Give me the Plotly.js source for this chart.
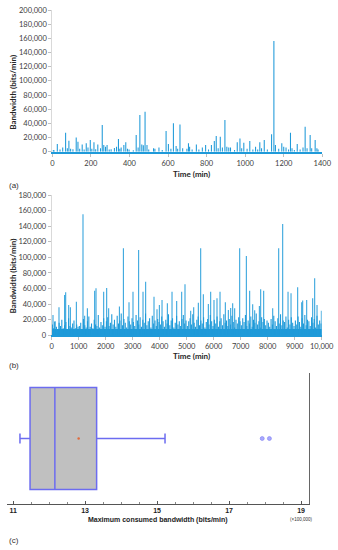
<!DOCTYPE html>
<html>
<head>
<meta charset="utf-8">
<script src="https://cdn.plot.ly/plotly-3.0.1.min.js"></script>
<style>html,body{margin:0;padding:0;background:#fff;}#chart{width:338px;height:550px;}</style>
</head>
<body>
<div id="chart"></div>
<script>
// ---------- Panel (a): one day, minute resolution ----------
const aTimes = [5,9,26,40,54,69,78,86,95,107,124,133,142,155,165,176,185,197,205,216,225,236,250,259,267,276,284,295,305,322,333,343,350,357,371,381,390,398,420,435,445,454,464,472,481,491,500,525,532,553,570,590,602,615,628,642,650,662,676,698,706,712,725,747,760,778,795,810,825,840,850,860,871,882,895,905,915,924,945,959,973,982,993,1010,1024,1040,1054,1065,1076,1085,1099,1115,1137,1149,1157,1174,1190,1200,1212,1225,1235,1243,1255,1270,1285,1300,1311,1321,1337,1345,1363,1372,1378];
const aValues = [2400,2000,10800,3000,6100,26800,5000,15500,4000,3300,20200,14100,4000,10300,3000,11800,6000,16500,4000,13200,3500,10300,5000,37600,9400,7000,9400,3000,3300,5200,7000,17900,4000,6100,9400,13200,4000,3000,2000,23500,6000,51700,10300,9000,56400,9400,3000,4700,4000,6100,2500,29100,10800,4000,40000,8000,4000,38500,5000,4000,11800,7000,3000,10300,3000,6100,9400,3000,9400,15000,22100,5000,21200,6000,44700,7000,6000,6000,2500,13200,18800,5000,12700,4000,15000,3000,7000,3000,13200,5000,16500,3000,24500,156200,9400,4000,11800,7000,6000,3000,26800,5000,2500,10800,3000,6000,35300,5000,23500,5000,16500,5000,3000];
const aTickVals = [0,200,400,600,800,1000,1200,1400];

// ---------- Panel (b): ten thousand minutes ----------
const bBaseTimes = [
25,75,125,175,225,275,325,375,425,475,525,575,625,675,725,775,825,875,925,975,
1025,1075,1125,1175,1225,1275,1325,1375,1425,1475,1525,1575,1625,1675,1725,1775,1825,1875,1925,1975,
2025,2075,2125,2175,2225,2275,2325,2375,2425,2475,2525,2575,2625,2675,2725,2775,2825,2875,2925,2975,
3025,3075,3125,3175,3225,3275,3325,3375,3425,3475,3525,3575,3625,3675,3725,3775,3825,3875,3925,3975,
4025,4075,4125,4175,4225,4275,4325,4375,4425,4475,4525,4575,4625,4675,4725,4775,4825,4875,4925,4975,
5025,5075,5125,5175,5225,5275,5325,5375,5425,5475,5525,5575,5625,5675,5725,5775,5825,5875,5925,5975,
6025,6075,6125,6175,6225,6275,6325,6375,6425,6475,6525,6575,6625,6675,6725,6775,6825,6875,6925,6975,
7025,7075,7125,7175,7225,7275,7325,7375,7425,7475,7525,7575,7625,7675,7725,7775,7825,7875,7925,7975,
8025,8075,8125,8175,8225,8275,8325,8375,8425,8475,8525,8575,8625,8675,8725,8775,8825,8875,8925,8975,
9025,9075,9125,9175,9225,9275,9325,9375,9425,9475,9525,9575,9625,9675,9725,9775,9825,9875,9925,9975];
const bBaseValues = [
14000,9000,18000,11000,7000,16000,12000,20000,9000,13000,17000,8000,22000,12000,10000,15000,19000,9000,14000,11000,
12000,16000,8000,21000,13000,10000,18000,24000,11000,15000,9000,20000,14000,12000,26000,10000,17000,13000,22000,11000,
18000,23000,12000,16000,27000,14000,20000,11000,25000,15000,19000,28000,13000,21000,16000,10000,24000,18000,14000,22000,
17000,12000,26000,19000,14000,23000,11000,20000,16000,28000,13000,18000,22000,10000,25000,15000,19000,12000,21000,17000,
14000,24000,18000,11000,20000,15000,27000,13000,19000,22000,10000,16000,25000,14000,18000,12000,21000,26000,15000,19000,
12000,18000,22000,14000,27000,16000,11000,20000,24000,13000,19000,15000,23000,10000,17000,21000,14000,26000,18000,12000,
20000,15000,24000,11000,18000,22000,13000,27000,16000,19000,12000,21000,14000,25000,17000,10000,20000,15000,23000,18000,
13000,22000,17000,26000,12000,19000,15000,24000,11000,20000,16000,28000,14000,18000,10000,23000,17000,21000,13000,19000,
16000,11000,21000,14000,25000,18000,12000,22000,15000,27000,13000,19000,17000,24000,10000,20000,14000,23000,16000,12000,
19000,14000,24000,17000,11000,22000,15000,26000,13000,20000,18000,12000,23000,16000,21000,10000,25000,14000,19000,15000];
// solid floor of the dense minute-level traffic in panel (b)
const bFloorTimes = [5000];
const bFloorValues = [8000];
const bPeakTimes = [48,110,270,480,519,630,690,912,1159,1222,1320,1592,1641,1926,2037,2111,2506,2654,2863,3011,3221,3382,3481,3789,3900,3986,4086,4282,4456,4630,4815,4937,5149,5260,5430,5519,5615,5800,5889,6011,6122,6234,6430,6541,6630,6704,6778,6963,7208,7333,7445,7519,7690,7741,7852,8186,8408,8556,8753,8864,9111,9260,9297,9445,9667,9741,9827,9986];
const bPeakValues = [26100,17500,35900,51700,55200,38900,35900,43200,155200,25000,34600,57300,60300,56000,60700,34600,36800,111600,42300,56000,109500,56000,68800,49600,33400,38900,45300,41000,56000,44000,56000,65400,31600,35900,41900,111600,52600,40200,56000,45300,47500,56000,42300,32500,35000,41000,34600,111600,101800,57300,39800,32000,37600,59000,57300,34600,111600,142800,56000,53900,61600,42300,44500,45300,47500,73100,38900,31600];
const bTickVals = [0,1000,2000,3000,4000,5000,6000,7000,8000,9000,10000];
const bTickText = ['0','1000','2000','3000','4000','5000','6000','7000','8000','9000','10,000'];

// ---------- Panel (c): box plot, units of 100,000 bits/min ----------
const boxLowerFence = [11.19];
const boxQ1 = [11.47];
const boxMedian = [12.16];
const boxQ3 = [13.32];
const boxUpperFence = [15.22];
const boxMean = [12.82];
const boxOutliers = [17.92, 18.12];
const cTickVals = [11, 13, 15, 17, 19];

const BLUE = '#1f9ad9';
const PX = (x) => x / 338;
const PY = (y) => 1 - y / 550;

const traces = [
  {type:'bar', x:aTimes, y:aValues, width:5.5, marker:{color:BLUE, line:{width:0}}, xaxis:'x', yaxis:'y'},
  {type:'bar', x:bFloorTimes, y:bFloorValues, width:10000, marker:{color:BLUE, line:{width:0}}, xaxis:'x2', yaxis:'y2'},
  {type:'bar', x:bBaseTimes, y:bBaseValues, width:40, marker:{color:BLUE, line:{width:0}}, xaxis:'x2', yaxis:'y2'},
  {type:'bar', x:bPeakTimes, y:bPeakValues, width:36, marker:{color:BLUE, line:{width:0}}, xaxis:'x2', yaxis:'y2'},
  {type:'box', orientation:'h', y:[0], q1:boxQ1, median:boxMedian, q3:boxQ3,
   lowerfence:boxLowerFence, upperfence:boxUpperFence, width:0.78, whiskerwidth:0.1,
   fillcolor:'#c0c0c0', line:{color:'#6c6cf0', width:1.5}, boxpoints:false, xaxis:'x3', yaxis:'y3'},
  {type:'scatter', mode:'markers', x:boxMean, y:[0], marker:{size:2.5, color:'#e06a3c'}, xaxis:'x3', yaxis:'y3'},
  {type:'scatter', mode:'markers', x:boxOutliers, y:[0,0], marker:{size:4, color:'#a8a8ff', line:{color:'#8080f0', width:0.6}}, xaxis:'x3', yaxis:'y3'}
];

const tickFontAB = {family:'Lato, "Open Sans", sans-serif', size:7.5, color:'#404040'};
const titleFontAB = {family:'Lato, "Open Sans", sans-serif', size:8, color:'#262626', weight:'bold'};

const layout = {
  width:338, height:550,
  margin:{l:0, r:0, t:0, b:0},
  paper_bgcolor:'#ffffff', plot_bgcolor:'#ffffff',
  showlegend:false, barmode:'overlay',
  xaxis:{domain:[PX(52.3), PX(322.3)], anchor:'y', range:[0,1400], tickmode:'array', tickvals:aTickVals,
    showgrid:false, zeroline:false, showline:true, linecolor:BLUE, linewidth:2,
    ticks:'outside', ticklen:3, tickcolor:'#bfbfbf', tickfont:tickFontAB},
  yaxis:{domain:[PY(151.7), PY(10)], anchor:'x', range:[0,200000], tickmode:'linear', tick0:0, dtick:20000,
    tickformat:',d', showgrid:false, zeroline:false, showline:true, linecolor:'#d9d9d9', linewidth:1,
    ticks:'outside', ticklen:3, tickcolor:'#bfbfbf', tickfont:tickFontAB},
  xaxis2:{domain:[PX(51.7), PX(321.7)], anchor:'y2', range:[0,10000], tickmode:'array', tickvals:bTickVals, ticktext:bTickText,
    showgrid:false, zeroline:false, showline:true, linecolor:BLUE, linewidth:1.5,
    ticks:'outside', ticklen:3, tickcolor:'#bfbfbf', tickfont:tickFontAB},
  yaxis2:{domain:[PY(335.3), PY(195)], anchor:'x2', range:[0,180000], tickmode:'linear', tick0:0, dtick:20000,
    tickformat:',d', showgrid:false, zeroline:false, showline:true, linecolor:'#d9d9d9', linewidth:1,
    ticks:'outside', ticklen:3, tickcolor:'#bfbfbf', tickfont:tickFontAB},
  xaxis3:{domain:[PX(7), PX(309)], anchor:'y3', range:[10.83,19.22], tickmode:'array', tickvals:cTickVals,
    showgrid:false, zeroline:false, showline:true, linecolor:'#555555', linewidth:1,
    ticks:'inside', ticklen:3, tickcolor:'#555555',
    minor:{tickmode:'linear', tick0:11, dtick:0.5, ticks:'inside', ticklen:2, tickcolor:'#888888', showgrid:false},
    tickfont:{family:'"Liberation Sans", Arial, sans-serif', size:7, color:'#222222', weight:'bold'}},
  yaxis3:{domain:[PY(504), PY(373)], anchor:'x3', side:'right', range:[-0.5,0.5],
    showgrid:false, zeroline:false, showline:true, linecolor:'#666666', linewidth:1,
    ticks:'', showticklabels:false},
  annotations:[
    {text:'Bandwidth (bits/min)', xref:'paper', yref:'paper', x:PX(12.7), y:PY(92), textangle:-90,
     showarrow:false, xanchor:'center', yanchor:'middle', font:titleFontAB},
    {text:'Time (min)', xref:'paper', yref:'paper', x:PX(191), y:PY(174),
     showarrow:false, xanchor:'center', yanchor:'middle', font:titleFontAB},
    {text:'Bandwidth (bits/min)', xref:'paper', yref:'paper', x:PX(12.7), y:PY(275.7), textangle:-90,
     showarrow:false, xanchor:'center', yanchor:'middle', font:titleFontAB},
    {text:'Time (min)', xref:'paper', yref:'paper', x:PX(191), y:PY(356),
     showarrow:false, xanchor:'center', yanchor:'middle', font:titleFontAB},
    {text:'Maximum consumed bandwidth (bits/min)', xref:'paper', yref:'paper', x:PX(157.5), y:PY(520),
     showarrow:false, xanchor:'center', yanchor:'middle',
     font:{family:'"Liberation Sans", Arial, sans-serif', size:7, color:'#222222', weight:'bold'}},
    {text:'(×100,000)', xref:'paper', yref:'paper', x:PX(301), y:PY(519),
     showarrow:false, xanchor:'center', yanchor:'middle',
     font:{family:'"Liberation Sans", Arial, sans-serif', size:4.5, color:'#333333'}},
    {text:'(a)', xref:'paper', yref:'paper', x:PX(7), y:PY(185), showarrow:false, xanchor:'left', yanchor:'middle',
     font:{family:'"Liberation Sans", Arial, sans-serif', size:8, color:'#333333'}},
    {text:'(b)', xref:'paper', yref:'paper', x:PX(7), y:PY(365), showarrow:false, xanchor:'left', yanchor:'middle',
     font:{family:'"Liberation Sans", Arial, sans-serif', size:8, color:'#333333'}},
    {text:'(c)', xref:'paper', yref:'paper', x:PX(7), y:PY(540), showarrow:false, xanchor:'left', yanchor:'middle',
     font:{family:'"Liberation Sans", Arial, sans-serif', size:8, color:'#333333'}}
  ]
};

Plotly.newPlot('chart', traces, layout, {staticPlot:true, displayModeBar:false});
</script>
</body>
</html>
